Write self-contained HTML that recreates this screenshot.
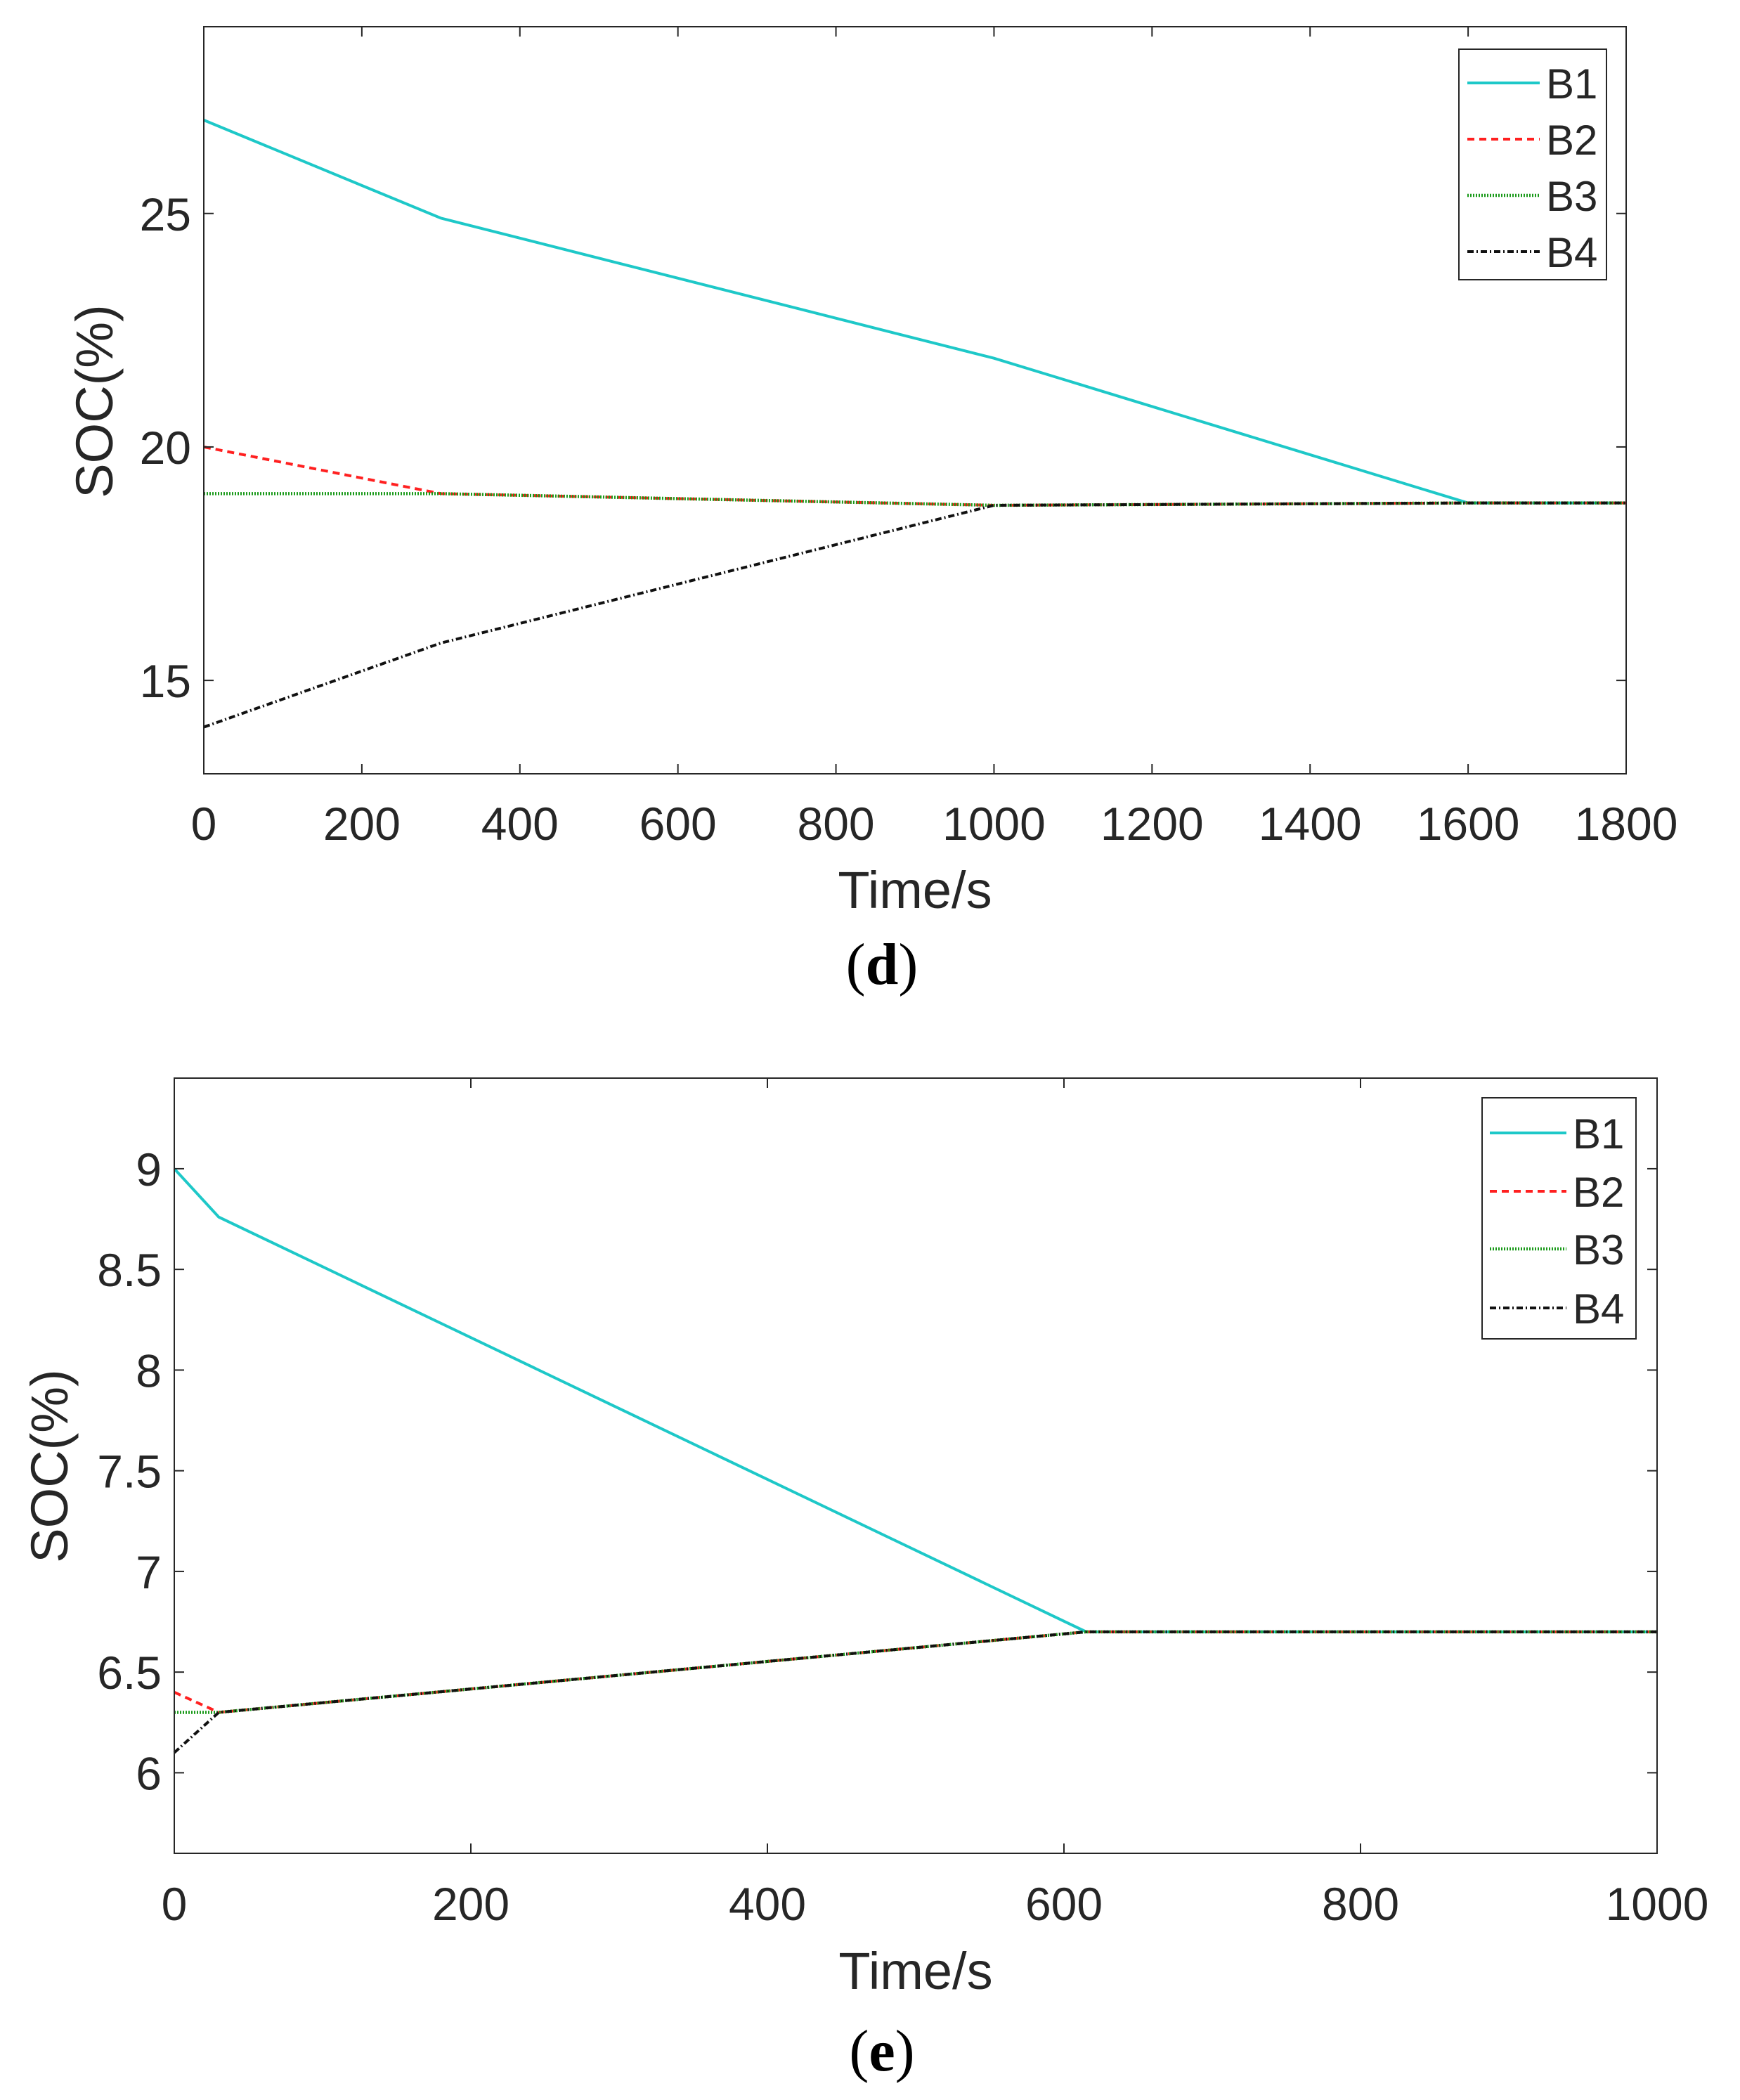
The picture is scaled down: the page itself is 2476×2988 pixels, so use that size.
<!DOCTYPE html>
<html><head><meta charset="utf-8"><style>
html,body{margin:0;padding:0;background:#fff;}
svg{display:block;}
text{font-family:"Liberation Sans",sans-serif;fill:#262626;}
text.cap{font-family:"Liberation Serif",serif;fill:#000;}
</style></head><body>
<svg id="fig" width="2476" height="2988" viewBox="0 0 2476 2988" xmlns="http://www.w3.org/2000/svg"></svg>
<script>
// Chart d data
const dXTicks=[0,200,400,600,800,1000,1200,1400,1600,1800];
const dYTicks=[15,20,25];
const dTime=[0,300,1000,1600,1800];
const dB1=[27,24.9,21.9,18.8,18.8];
const dB2=[20,19,18.75,18.8,18.8];
const dB3=[19,19,18.75,18.8,18.8];
const dB4=[14,15.8,18.75,18.8,18.8];
// Chart e data
const eXTicks=[0,200,400,600,800,1000];
const eYTicks=[6,6.5,7,7.5,8,8.5,9];
const eTime=[0,30,615,1000];
const eB1=[9,8.76,6.7,6.7];
const eB2=[6.4,6.3,6.7,6.7];
const eB3=[6.3,6.3,6.7,6.7];
const eB4=[6.1,6.3,6.7,6.7];
const seriesNames=["B1","B2","B3","B4"];

const NS="http://www.w3.org/2000/svg";
const svg=document.getElementById('fig');
function mk(tag,attrs,parent){const e=document.createElementNS(NS,tag);for(const k in attrs)e.setAttribute(k,attrs[k]);(parent||svg).appendChild(e);return e;}
const styles=[
 {stroke:"#1ec8c8",dash:"",w:4},
 {stroke:"#ff2020",dash:"10 7",w:4},
 {stroke:"#1a9a1a",dash:"2 2",w:4.5},
 {stroke:"#111",dash:"9 4 2 4",w:4}
];
function chart(cfg){
 const g=mk('g',{});
 
 
 const {L,R,T,B,x0,x1,y0,y1}=cfg;
 const sx=v=>L+(v-x0)/(x1-x0)*(R-L);
 const sy=v=>B-(v-y0)/(y1-y0)*(B-T);
 cfg.series.forEach((s,i)=>{
  const pts=cfg.time.map((t,j)=>sx(t)+","+sy(s[j])).join(" ");
  const pl=mk('polyline',{points:pts,fill:"none",stroke:styles[i].stroke,"stroke-width":styles[i].w,"stroke-dasharray":styles[i].dash},g);
  
  
 });
 const box=mk('rect',{x:L,y:T,width:R-L,height:B-T,fill:"none",stroke:"#262626","stroke-width":2},g);
 
 
 cfg.xt.forEach(v=>{
  const x=sx(v);
  mk('line',{x1:x,x2:x,y1:B,y2:B-14,stroke:"#262626","stroke-width":2},g);
  mk('line',{x1:x,x2:x,y1:T,y2:T+14,stroke:"#262626","stroke-width":2},g);
  const t=mk('text',{x:x,y:cfg.xly,"font-size":66,"text-anchor":"middle"},g);
  t.textContent=v;
  
  
 });
 cfg.yt.forEach(v=>{
  const y=sy(v);
  mk('line',{x1:L,x2:L+14,y1:y,y2:y,stroke:"#262626","stroke-width":2},g);
  mk('line',{x1:R,x2:R-14,y1:y,y2:y,stroke:"#262626","stroke-width":2},g);
  const t=mk('text',{x:L-18,y:y+24,"font-size":66,"text-anchor":"end"},g);
  t.textContent=v;
  
  
 });
 const xt=mk('text',{x:(L+R)/2,y:cfg.xty,"font-size":74,"text-anchor":"middle"},g);
 xt.textContent="Time/s";
 
 
 const yt=mk('text',{x:0,y:0,"font-size":74,"text-anchor":"middle",transform:`translate(${cfg.ytx},${cfg.yty}) rotate(-90)`},g);
 yt.textContent="SOC(%)";
 
 
 const cap=mk('text',{x:1255,y:cfg.capy,"font-size":84,"text-anchor":"middle","class":"cap"},g);
 
 
 const a=mk('tspan',{},cap);a.textContent="(";
 const b=mk('tspan',{"font-weight":"bold"},cap);b.textContent=cfg.cap;
 const c=mk('tspan',{},cap);c.textContent=")";
 const lg=cfg.lg;
 const lb=mk('rect',{x:lg.x,y:lg.y,width:lg.w,height:lg.h,fill:"#fff",stroke:"#262626","stroke-width":2},g);
 
 
 seriesNames.forEach((n,i)=>{
  const y=lg.ys[i];
  mk('line',{x1:lg.l1,x2:lg.l2,y1:y,y2:y,stroke:styles[i].stroke,"stroke-width":styles[i].w,"stroke-dasharray":styles[i].dash},g);
  const t=mk('text',{x:lg.tx,y:y+22,"font-size":60},g);
  t.textContent=n;
  
  
 });
}
chart({name:'chart-d',L:290,R:2314,T:38,B:1101,x0:0,x1:1800,y0:13,y1:29,
 time:dTime,series:[dB1,dB2,dB3,dB4],xt:dXTicks,yt:dYTicks,
 xly:1195,xty:1292,ytx:160,yty:571,capy:1400,cap:"d",
 lg:{x:2076,y:70,w:210,h:328,ys:[118,198,278,358],l1:2088,l2:2191,tx:2200}});
chart({name:'chart-e',L:248,R:2358,T:1534,B:2637,x0:0,x1:1000,y0:5.6,y1:9.45,
 time:eTime,series:[eB1,eB2,eB3,eB4],xt:eXTicks,yt:eYTicks,
 xly:2732,xty:2830,ytx:96,yty:2086,capy:2946,cap:"e",
 lg:{x:2109,y:1562,w:219,h:343,ys:[1612,1695,1777,1861],l1:2120,l2:2229,tx:2238}});
</script>
</body></html>
